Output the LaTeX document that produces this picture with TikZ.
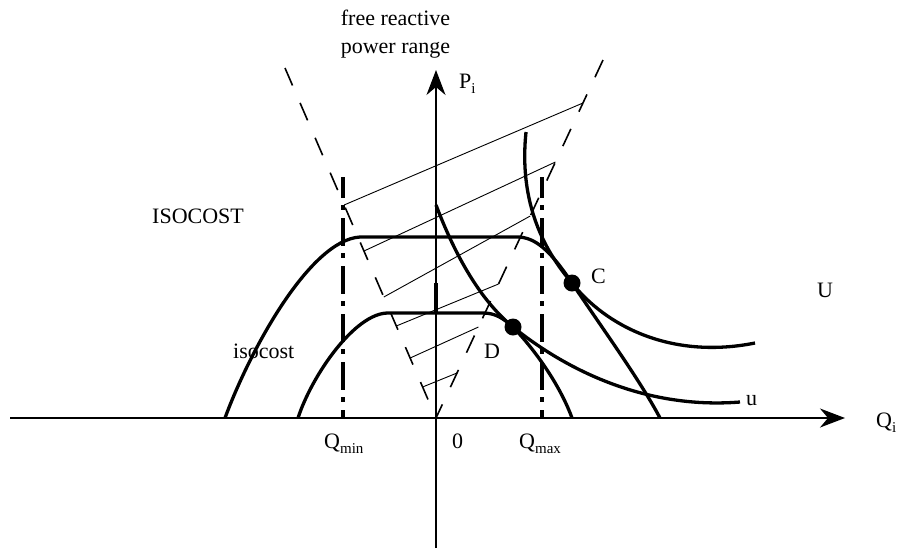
\documentclass[tikz,border=0pt]{standalone}
\usepackage{fontspec}
\setmainfont{Liberation Serif}
\usetikzlibrary{arrows.meta,calc}
\newcommand\lowsub[1]{\raisebox{-5pt}{\fontsize{15}{15}\selectfont #1}}
\begin{document}
\begin{tikzpicture}[x=1pt,y=-1pt,
  curve/.style={line width=3.3pt},
  axis/.style={line width=1.6pt,-{Stealth[length=25pt,width=19pt,inset=8pt]}},
  vdash/.style={line width=1.6pt,dash pattern=on 19pt off 19pt},
  hatch/.style={line width=0.9pt},
  dashdot/.style={line width=3.5pt,dash pattern=on 28pt off 7pt on 5pt off 8pt,dash phase=7pt},
  lbl/.style={inner sep=0pt,anchor=base west,font=\fontsize{22}{26}\selectfont},
  dot/.style={fill=black}]
\path[use as bounding box] (0,0) rectangle (901,558);
% key points
\coordinate (O) at (436,418);
\coordinate (Qstart) at (10,418);
\coordinate (Qend) at (845,418);
\coordinate (Pstart) at (436,548);
\coordinate (Pend) at (436,70);
\coordinate (Ltop) at (285,68);
\coordinate (Rtop) at (603,60);
\coordinate (C) at (572,283);
\coordinate (D) at (513,327);
% dashed V (free reactive power range)
\draw[vdash] (Ltop) -- (O);
\draw[vdash] (Rtop) -- (O);
% hatching
\coordinate (h1l) at ($(Ltop)!0.3914!(O)$);
\coordinate (h1r) at ($(Rtop)!0.1201!(O)$);
\coordinate (h2l) at ($(Ltop)!0.5229!(O)$);
\coordinate (h2r) at ($(Rtop)!0.2849!(O)$);
\coordinate (h3l) at ($(Ltop)!0.6543!(O)$);
\coordinate (h3r) at ($(Rtop)!0.4358!(O)$);
\coordinate (h4l) at ($(Ltop)!0.7371!(O)$);
\coordinate (h4r) at ($(Rtop)!0.6257!(O)$);
\coordinate (h5l) at ($(Ltop)!0.8286!(O)$);
\coordinate (h5r) at ($(Rtop)!0.7458!(O)$);
\coordinate (h6l) at ($(Ltop)!0.9114!(O)$);
\coordinate (h6r) at ($(Rtop)!0.8743!(O)$);
\foreach \i in {1,...,6} \draw[hatch] (h\i l) -- (h\i r);
% axes
\draw[axis] (Qstart) -- (Qend);
\draw[axis] (Pstart) -- (Pend);
\coordinate (Pa) at (436,283);
\coordinate (Pb) at (436,313);
\draw[line width=3.2pt] (Pa) -- (Pb);
% Qmin / Qmax limits
\coordinate (Qmint) at (343,177);
\coordinate (Qminb) at (343,418);
\coordinate (Qmaxt) at (542,177);
\coordinate (Qmaxb) at (542,418);
\draw[dashdot] (Qmint) -- (Qminb);
\draw[dashdot] (Qmaxt) -- (Qmaxb);
% ISOCOST (large)
\coordinate (I1) at (225,418);
\coordinate (I2) at (360,237);
\coordinate (I3) at (517,237);
\coordinate (I4) at (660,418);
\draw[curve] (I1) .. controls (250,350) and (310,240) .. (I2) -- (I3)
  .. controls (535,237) and (550,250) .. (C)
  .. controls (600,325) and (640,380) .. (I4);
% isocost (small)
\coordinate (i1) at (298,418);
\coordinate (i2) at (388,313);
\coordinate (i3) at (483,313);
\coordinate (i4) at (572,418);
\draw[curve] (i1) .. controls (312,375) and (355,313) .. (i2) -- (i3)
  .. controls (495,313) and (503,318) .. (D)
  .. controls (535,350) and (560,385) .. (i4);
% U curve
\coordinate (U1) at (526,132);
\coordinate (U2) at (755,343);
\draw[curve] (U1) .. controls (520,190) and (535,240) .. (C)
  .. controls (605,325) and (670,360) .. (U2);
% u curve
\coordinate (u1) at (436,205);
\coordinate (u2) at (740,402);
\draw[curve] (u1) .. controls (455,255) and (480,300) .. (D)
  .. controls (560,365) and (640,410) .. (u2);
% points
\fill[dot] (C) circle (8.5);
\fill[dot] (D) circle (8.5);
% labels
\node[lbl,anchor=base] (free1) at (395.5,25) {free reactive};
\node[lbl,anchor=base] (free2) at (395.5,53) {power range};
\node[lbl] (Plbl) at (459,88) {P\lowsub{i}};
\node[lbl] (ISO) at (152,223) {ISOCOST};
\node[lbl] (iso) at (233,358) {isocost};
\node[lbl] (Clbl) at (591,283) {C};
\node[lbl] (Dlbl) at (484,358) {D};
\node[lbl] (Ulbl) at (817,297) {U};
\node[lbl] (ulbl) at (746,405) {u};
\node[lbl] (Qminlbl) at (324,448) {Q\lowsub{min}};
\node[lbl] (zero) at (452,448) {0};
\node[lbl] (Qmaxlbl) at (519,448) {Q\lowsub{max}};
\node[lbl] (Qlbl) at (876,427) {Q\lowsub{i}};
\end{tikzpicture}
\end{document}
